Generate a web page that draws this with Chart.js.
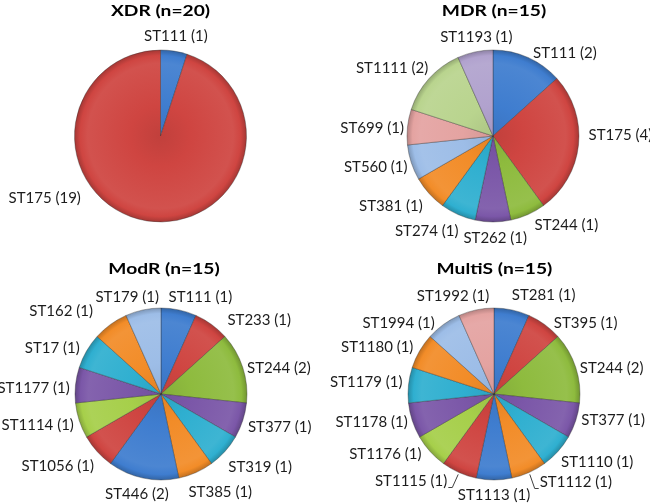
<!DOCTYPE html>
<html>
<head>
<meta charset="utf-8">
<script src="https://cdn.jsdelivr.net/npm/chart.js@4.4.1/dist/chart.umd.min.js"></script>
<style>
html,body{margin:0;padding:0;background:#fff;width:650px;height:503px;overflow:hidden}
#wrap{position:relative;width:650px;height:503px}
canvas{position:absolute;left:0;top:0}
</style>
</head>
<body>
<div id="wrap">
<canvas id="c1" width="650" height="503"></canvas>
<canvas id="c2" width="650" height="503"></canvas>
<canvas id="c3" width="650" height="503"></canvas>
<canvas id="c4" width="650" height="503"></canvas>
</div>
<script>
// ---------- DATA ----------
const titles = ['XDR (n=20)', 'MDR (n=15)', 'ModR (n=15)', 'MultiS (n=15)'];

const xdrLabels = ['ST111', 'ST175'];
const xdrValues = [1, 19];

const mdrLabels = ['ST111', 'ST175', 'ST244', 'ST262', 'ST274', 'ST381', 'ST560', 'ST699', 'ST1111', 'ST1193'];
const mdrValues = [2, 4, 1, 1, 1, 1, 1, 1, 2, 1];

const modrLabels = ['ST111', 'ST233', 'ST244', 'ST377', 'ST319', 'ST385', 'ST446', 'ST1056', 'ST1114', 'ST1177', 'ST17', 'ST162', 'ST179'];
const modrValues = [1, 1, 2, 1, 1, 1, 2, 1, 1, 1, 1, 1, 1];

const multisLabels = ['ST281', 'ST395', 'ST244', 'ST377', 'ST1110', 'ST1112', 'ST1113', 'ST1115', 'ST1176', 'ST1178', 'ST1179', 'ST1180', 'ST1994', 'ST1992'];
const multisValues = [1, 1, 2, 1, 1, 1, 1, 1, 1, 1, 1, 1, 1, 1];

// ---------- STYLE / LAYOUT ----------
const C = {
  blue: '#3F7DCF', red: '#CF4541', green: '#8EBB3E', purple: '#7B57A8', aqua: '#2FAFD0',
  orange: '#F28C28', lblue: '#9DBDE7', pink: '#E4A3A1', lgreen: '#B9D48E', lpurple: '#B1A2CE', lime: '#A6CF4A'
};
const xdrColors = [C.blue, C.red];
const mdrColors = [C.blue, C.red, C.green, C.purple, C.aqua, C.orange, C.lblue, C.pink, C.lgreen, C.lpurple];
const modrColors = [C.blue, C.red, C.green, C.purple, C.aqua, C.orange, C.blue, C.red, C.lime, C.purple, C.aqua, C.orange, C.lblue];
const multisColors = [C.blue, C.red, C.green, C.purple, C.aqua, C.orange, C.blue, C.red, C.lime, C.purple, C.aqua, C.orange, C.lblue, C.pink];

// pie placement (center, radius) and label placement tweaks (angle shift in deg, extra radial gap in px)
const charts = [
  { id: 'c1', title: titles[0], labels: xdrLabels, values: xdrValues, colors: xdrColors,
    cx: 160.5, cy: 136, r: 86, titleDx: 0,
    shift: [-2, 47], extra: [0, 9], leader: [] },
  { id: 'c2', title: titles[1], labels: mdrLabels, values: mdrValues, colors: mdrColors,
    cx: 493, cy: 136, r: 86, titleDx: 1,
    shift: [10.7, -6.6, -10, -1, 5.8, 2, 0, -1, -1, 4.6], extra: [0, 1, 5, 0, 7, 7, -3, -5, 3, -1], leader: [] },
  { id: 'c3', title: titles[2], labels: modrLabels, values: modrValues, colors: modrColors,
    cx: 161, cy: 394, r: 86, titleDx: 3,
    shift: [6, 11, 2.5, 0.7, 0, -2.4, -1, 0.6, 0, -2, -3, -8.6, -3.5], extra: [1, 8, -4, -1, 7, 7, 0, 7, -1, -3, 0, 16, 0], leader: [] },
  { id: 'c4', title: titles[3], labels: multisLabels, values: multisValues, colors: multisColors,
    cx: 494, cy: 394, r: 86, titleDx: 0.5,
    shift: [10, 10, 2, -3, -2, -12.5, 0, 13, 7, 1.5, 1, -2.5, -10, -6], extra: [6, 1, -4, -3, 4, 7, -1, 7, 2, -3, -2, 1, 2, 2], leader: [5, 7] }
];

const W = 650, H = 503;
const LABEL_FONT = '15px Lato';
const TITLE_FONT = 'bold 16px Lato';
const TITLE_STRETCH = 1.2;
const GAP = 8.5;
const CAP = 10.8;

function mix(hex, amt) {
  const n = parseInt(hex.slice(1), 16);
  let r = n >> 16, g = (n >> 8) & 255, b = n & 255;
  const t = amt < 0 ? 0 : 255, p = Math.abs(amt);
  r = Math.round(r + (t - r) * p); g = Math.round(g + (t - g) * p); b = Math.round(b + (t - b) * p);
  return 'rgb(' + r + ',' + g + ',' + b + ')';
}

function sliceFill(colors) {
  return (c) => {
    const base = colors[c.dataIndex];
    const a = c.chart.chartArea;
    if (!a) return base;
    const cx = (a.left + a.right) / 2, cy = (a.top + a.bottom) / 2;
    const r = Math.min(a.right - a.left, a.bottom - a.top) / 2;
    const g = c.chart.ctx.createRadialGradient(cx, cy, 0, cx, cy, r);
    g.addColorStop(0, mix(base, -0.07));
    g.addColorStop(0.35, base);
    g.addColorStop(0.84, mix(base, 0.07));
    g.addColorStop(0.93, base);
    g.addColorStop(1, mix(base, -0.22));
    return g;
  };
}

const labelPlugin = {
  id: 'sliceLabels',
  afterDraw(chart, args, o) {
    const cfg = o.cfg;
    const ctx = chart.ctx;
    const meta = chart.getDatasetMeta(0);
    const labels = chart.data.labels;
    const values = chart.data.datasets[0].data;
    ctx.save();
    // title
    const a = chart.chartArea;
    const pcx = (a.left + a.right) / 2, pcy = (a.top + a.bottom) / 2;
    ctx.save();
    ctx.font = TITLE_FONT;
    ctx.fillStyle = '#000';
    ctx.textAlign = 'center';
    ctx.textBaseline = 'alphabetic';
    ctx.translate(pcx + cfg.titleDx, pcy - 120);
    ctx.scale(TITLE_STRETCH, 1);
    ctx.fillText(cfg.title, 0, 0);
    ctx.restore();
    // slice labels
    ctx.font = LABEL_FONT;
    ctx.fillStyle = '#1c1c1c';
    ctx.textAlign = 'center';
    ctx.textBaseline = 'alphabetic';
    ctx.strokeStyle = '#404040';
    ctx.lineWidth = 1;
    meta.data.forEach((arc, i) => {
      const p = arc.getProps(['x', 'y', 'startAngle', 'endAngle', 'outerRadius'], true);
      const mid = (p.startAngle + p.endAngle) / 2;
      const th = mid + (cfg.shift[i] || 0) * Math.PI / 180;
      const txt = labels[i] + ' (' + values[i] + ')';
      const w = ctx.measureText(txt).width;
      const h = 14;
      const R = p.outerRadius + GAP + (cfg.extra[i] || 0);
      const lx = p.x + (R + w / 2) * Math.cos(th);
      const ly = p.y + (R + h / 2) * Math.sin(th);
      const base = ly + CAP / 2;
      ctx.fillText(txt, lx, base);
      if (cfg.leader.indexOf(i) >= 0) {
        const sx = p.x + (p.outerRadius + 2) * Math.cos(mid);
        const sy = p.y + (p.outerRadius + 2) * Math.sin(mid);
        const by = Math.round(base + 1) + 0.5;
        ctx.beginPath();
        if (lx > p.x) {
          const left = lx - w / 2;
          ctx.moveTo(sx, sy); ctx.lineTo(left - 5, by); ctx.lineTo(left - 1, by);
        } else {
          const right = lx + w / 2;
          ctx.moveTo(sx, sy); ctx.lineTo(right + 5, by); ctx.lineTo(right + 1, by);
        }
        ctx.stroke();
      }
    });
    ctx.restore();
  }
};

charts.forEach(cfg => {
  const d = cfg.r * 2 + 1;
  new Chart(document.getElementById(cfg.id), {
    type: 'pie',
    data: {
      labels: cfg.labels,
      datasets: [{
        data: cfg.values,
        backgroundColor: sliceFill(cfg.colors),
        borderColor: 'rgba(40,40,40,0.35)',
        borderWidth: 1,
        hoverOffset: 0
      }]
    },
    options: {
      responsive: false,
      devicePixelRatio: 1,
      animation: false,
      events: [],
      layout: {
        padding: {
          left: cfg.cx - d / 2,
          top: cfg.cy - d / 2,
          right: W - cfg.cx - d / 2,
          bottom: H - cfg.cy - d / 2
        }
      },
      plugins: {
        legend: { display: false },
        tooltip: { enabled: false },
        title: { display: false },
        sliceLabels: { cfg: cfg }
      }
    },
    plugins: [labelPlugin]
  });
});
</script>
</body>
</html>
